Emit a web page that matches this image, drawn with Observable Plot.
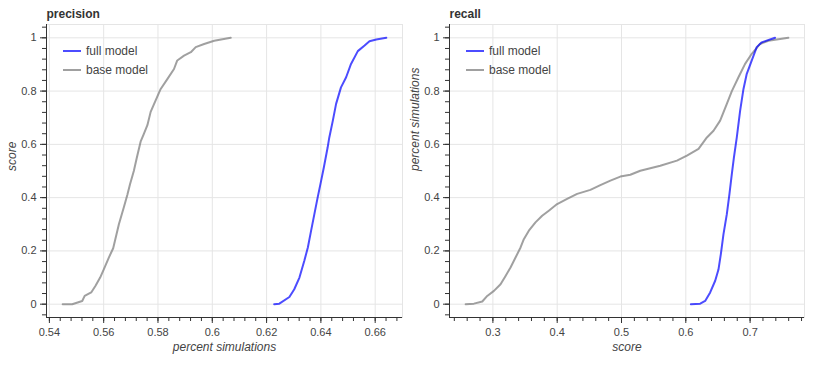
<!DOCTYPE html>
<html>
<head>
<meta charset="utf-8">
<script src="https://cdn.jsdelivr.net/npm/d3@7"></script>
<script src="https://cdn.jsdelivr.net/npm/@observablehq/plot@0.6"></script>
<style>
  html, body { margin: 0; padding: 0; background: white; }
  #wrap { position: relative; width: 828px; height: 369px; display: flex; }
  .panel { position: relative; width: 414px; height: 369px; }
  .panel svg { overflow: visible; }
  .legend { position: absolute; top: 41px; font: 12px "Liberation Sans", Arial, sans-serif; color: #444; }
  .legend .row { display: flex; align-items: center; height: 19.5px; }
  .legend .sw { width: 18px; height: 2px; margin-right: 5px; }
</style>
</head>
<body>
<div id="wrap"></div>
<script>
// ---- data ----
const precisionBaseX = [0.5449,0.5484,0.5521,0.5530,0.5554,0.5570,0.5587,0.5600,0.5619,0.5635,0.5656,0.5674,0.5687,0.5697,0.5711,0.5722,0.5736,0.5748,0.5761,0.5773,0.5791,0.5810,0.5835,0.5859,0.5871,0.5896,0.5921,0.5939,0.5970,0.6007,0.6068];
const precisionBaseY = [0,0,0.012,0.031,0.044,0.069,0.10,0.13,0.175,0.21,0.30,0.363,0.41,0.45,0.50,0.55,0.610,0.639,0.672,0.722,0.764,0.808,0.846,0.883,0.915,0.933,0.946,0.965,0.977,0.989,1.0];
const precisionFullX = [0.6228,0.6247,0.6284,0.6302,0.6321,0.6339,0.6352,0.6364,0.6376,0.6388,0.6401,0.6411,0.6425,0.6431,0.6444,0.6456,0.6474,0.6493,0.6511,0.6536,0.6561,0.6579,0.6604,0.6641];
const precisionFullY = [0,0.002,0.027,0.056,0.10,0.163,0.213,0.276,0.338,0.40,0.464,0.514,0.589,0.626,0.689,0.752,0.814,0.852,0.902,0.950,0.971,0.987,0.994,1.0];
const recallBaseX = [0.2576,0.2705,0.2835,0.2912,0.3016,0.3119,0.3197,0.3274,0.3352,0.3430,0.3481,0.3559,0.3662,0.3766,0.3869,0.3999,0.4154,0.4310,0.4516,0.4671,0.4827,0.4982,0.5137,0.5292,0.5603,0.5862,0.6017,0.6198,0.6328,0.6431,0.6534,0.6638,0.6716,0.6819,0.6922,0.7026,0.7155,0.7285,0.7595];
const recallBaseY = [0,0.002,0.01,0.031,0.05,0.075,0.106,0.138,0.175,0.213,0.244,0.276,0.307,0.332,0.351,0.376,0.395,0.414,0.429,0.447,0.464,0.479,0.486,0.501,0.52,0.539,0.558,0.583,0.626,0.651,0.689,0.752,0.80,0.852,0.902,0.94,0.977,0.989,1.0];
const recallFullX = [0.6079,0.6224,0.6301,0.6379,0.6457,0.6508,0.6545,0.6586,0.6638,0.6679,0.6716,0.6748,0.6793,0.6845,0.6897,0.6948,0.7026,0.7103,0.7181,0.7388];
const recallFullY = [0,0.002,0.012,0.044,0.088,0.13,0.188,0.263,0.338,0.414,0.489,0.55,0.626,0.727,0.808,0.865,0.915,0.965,0.983,1.0];

const seriesNames = ["full model", "base model"];
const seriesColors = ["blue", "gray"];
const yTicks = [0, 0.2, 0.4, 0.6, 0.8, 1];
const precisionXTicks = [0.54, 0.56, 0.58, 0.6, 0.62, 0.64, 0.66];
const recallXTicks = [0.3, 0.4, 0.5, 0.6, 0.7];
const yMinorTicks = d3.range(-1, 27).map(i => +(i * 0.04).toFixed(4));
const precisionXMinor = d3.range(0, 33).map(i => +(0.54 + i * 0.004).toFixed(4));
const recallXMinor = d3.range(0, 28).map(i => +(0.24 + i * 0.02).toFixed(4));

const zip = (xs, ys) => xs.map((x, i) => ({x, y: ys[i]}));
const fmt = d => String(+d.toFixed(4));
const INK = "#333";
const TXT = "#444";
const GRID = "#e5e5e5";

function panel({title, full, base, xTicks, xMinor, xLabel, yLabel, marginLeft, marginRight}) {
  const ext = d3.extent([...full, ...base], d => d.x);
  const pad = (ext[1] - ext[0]) * 0.05;
  const xDomain = [ext[0] - pad, ext[1] + pad];
  const yDomain = [-0.05, 1.05];
  const inX = t => t >= xDomain[0] && t <= xDomain[1];
  return Plot.plot({
    width: 414, height: 369,
    marginTop: 24, marginBottom: 52, marginLeft, marginRight,
    x: {domain: xDomain},
    y: {domain: yDomain},
    style: {fontFamily: '"Liberation Sans", Arial, sans-serif', fontSize: "11px", color: TXT, overflow: "visible", background: "white"},
    marks: [
      Plot.gridX(xTicks, {stroke: GRID, strokeOpacity: 1}),
      Plot.gridY(yTicks, {stroke: GRID, strokeOpacity: 1}),
      Plot.frame({stroke: GRID}),
      Plot.line(base, {x: "x", y: "y", stroke: seriesColors[1], strokeWidth: 2, strokeOpacity: 0.75}),
      Plot.line(full, {x: "x", y: "y", stroke: seriesColors[0], strokeWidth: 2, strokeOpacity: 0.7}),
      Plot.ruleX([xDomain[0]], {stroke: INK, strokeWidth: 1}),
      Plot.ruleY([yDomain[0]], {stroke: INK, strokeWidth: 1}),
      Plot.axisX({ticks: xTicks, tickSize: 6, tickPadding: 5, tickFormat: fmt, label: null, stroke: INK, fill: TXT}),
      Plot.axisX({ticks: xMinor.filter(inX), tickSize: 4, tickFormat: () => "", label: null, stroke: INK}),
      Plot.axisY({ticks: yTicks, tickSize: 6, tickPadding: 4, tickFormat: fmt, label: null, stroke: INK, fill: TXT}),
      Plot.axisY({ticks: yMinorTicks, tickSize: 4, tickFormat: () => "", label: null, stroke: INK}),
      Plot.text([title], {frameAnchor: "top-left", text: d => d, textAnchor: "start", lineAnchor: "bottom", dy: -7, fontWeight: "bold", fontSize: 12, fill: INK}),
      Plot.text([xLabel], {frameAnchor: "bottom", text: d => d, dy: 33, fontStyle: "italic", fontSize: 12, fill: TXT}),
      Plot.text([yLabel], {frameAnchor: "left", text: d => d, dx: -34, rotate: -90, fontStyle: "italic", fontSize: 12, fill: TXT})
    ]
  });
}

function legend(left) {
  const lg = document.createElement("div");
  lg.className = "legend";
  lg.style.left = left + "px";
  seriesNames.forEach((name, i) => {
    const row = document.createElement("div");
    row.className = "row";
    const sw = document.createElement("div");
    sw.className = "sw";
    sw.style.background = seriesColors[i];
    sw.style.opacity = i === 0 ? 0.7 : 0.75;
    const lab = document.createElement("span");
    lab.textContent = name;
    row.appendChild(sw);
    row.appendChild(lab);
    lg.appendChild(row);
  });
  return lg;
}

const wrap = document.getElementById("wrap");
const specs = [
  {title: "precision", full: zip(precisionFullX, precisionFullY), base: zip(precisionBaseX, precisionBaseY),
   xTicks: precisionXTicks, xMinor: precisionXMinor, xLabel: "percent simulations", yLabel: "score",
   marginLeft: 46, marginRight: 12},
  {title: "recall", full: zip(recallFullX, recallFullY), base: zip(recallBaseX, recallBaseY),
   xTicks: recallXTicks, xMinor: recallXMinor, xLabel: "score", yLabel: "percent simulations",
   marginLeft: 35, marginRight: 24}
];
specs.forEach(s => {
  const div = document.createElement("div");
  div.className = "panel";
  div.appendChild(panel(s));
  div.appendChild(legend(s.marginLeft + 17));
  wrap.appendChild(div);
});
</script>
</body>
</html>
